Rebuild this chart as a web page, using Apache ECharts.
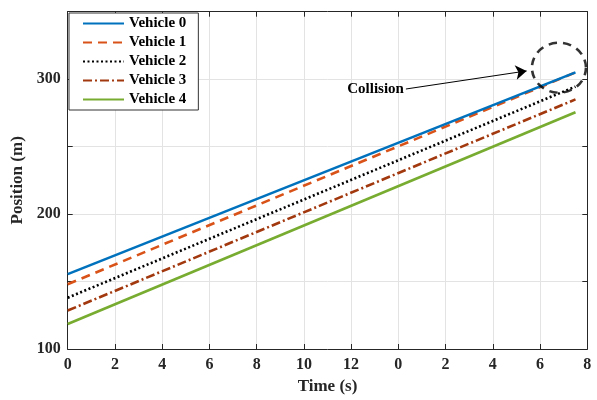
<!DOCTYPE html>
<html>
<head>
<meta charset="utf-8">
<script src="https://cdn.jsdelivr.net/npm/echarts@6/dist/echarts.min.js"></script>
<style>html,body{margin:0;padding:0;background:#fff}#c{width:597px;height:400px}</style>
</head>
<body>
<div id="c"></div>
<script>
// Data (x in axis units; tick labels wrap after 12)
var names = ['Vehicle 0', 'Vehicle 1', 'Vehicle 2', 'Vehicle 3', 'Vehicle 4'];
var times = [0, 21.5];
var v0 = [155.5, 305];
var v1 = [148, 305];
var v2 = [138, 294.5];
var v3 = [128.5, 285];
var v4 = [118.5, 275.5];
var xTicks = [0, 2, 4, 6, 8, 10, 12, 0, 2, 4, 6, 8];
var collisionCenter = [20.8, 308.5];
var arrowFrom = [14.32, 292.7];
var arrowTo = [19.43, 306.1];

var colors = ['#0072BD', '#D95319', '#000000', '#A2380E', '#77AC30'];
var dashes = ['solid', [9, 6], [2, 2.5], [9, 3, 2, 3], 'solid'];
var vals = [v0, v1, v2, v3, v4];
var FONT = '"Liberation Serif", "Times New Roman", serif';

var series = vals.map(function (v, i) {
  return {
    name: names[i], type: 'line', symbol: 'none', animation: false,
    data: times.map(function (t, k) { return [t, v[k]]; }),
    lineStyle: { color: colors[i], width: 2.6, type: dashes[i] },
    itemStyle: { color: colors[i] },
    z: 10 - i
  };
});
series.push({
  name: 'collision', type: 'scatter', animation: false, silent: true,
  data: [collisionCenter], symbol: 'circle', symbolSize: [54, 50], clip: false,
  itemStyle: { color: 'rgba(0,0,0,0)', borderColor: '#000', borderWidth: 2.5, borderType: [8, 6] },
  z: 20,
  markLine: {
    silent: true, animation: false,
    symbol: ['none', 'arrow'], symbolSize: 11,
    lineStyle: { color: '#000', width: 1, type: 'solid' },
    label: { show: true, position: 'start', formatter: 'Collision', distance: 2,
      fontFamily: FONT, fontWeight: 'bold', fontSize: 15, color: '#000' },
    data: [[{ coord: arrowFrom }, { coord: arrowTo }]]
  }
});

var axisCommon = {
  axisLine: { show: true, onZero: false, lineStyle: { color: '#262626', width: 1 } },
  axisTick: { show: true, inside: true, length: 5, lineStyle: { color: '#262626' } }
};

var chart = echarts.init(document.getElementById('c'), null, { renderer: 'canvas' });
chart.setOption({
  animation: false,
  backgroundColor: '#fff',
  grid: { left: 67.7, right: 9.7, top: 11.7, bottom: 47.3 },
  legend: {
    data: names, orient: 'vertical', left: 69, top: 13,
    itemWidth: 41, itemHeight: 14, itemGap: 4,
    padding: [3, 12, 3, 13],
    itemStyle: { color: 'rgba(0,0,0,0)', borderWidth: 0, opacity: 0 },
    backgroundColor: '#fff', borderColor: '#333', borderWidth: 1, borderRadius: 0,
    textStyle: { fontFamily: FONT, fontWeight: 'bold', fontSize: 15, color: '#000' }
  },
  xAxis: [
    Object.assign({}, axisCommon, {
      type: 'value', min: 0, max: 22, interval: 2, position: 'bottom',
      name: 'Time (s)', nameLocation: 'middle', nameGap: 29,
      nameTextStyle: { fontFamily: FONT, fontWeight: 'bold', fontSize: 17, color: '#262626' },
      axisLabel: { margin: 8, fontFamily: FONT, fontWeight: 'bold', fontSize: 16, color: '#262626',
        formatter: function (v) { return String(xTicks[Math.round(v / 2)]); } },
      splitLine: { show: true, lineStyle: { color: '#e3e3e3', width: 1 } }
    }),
    Object.assign({}, axisCommon, {
      type: 'value', min: 0, max: 22, interval: 2, position: 'top',
      axisLabel: { show: false }, splitLine: { show: false }
    })
  ],
  yAxis: [
    Object.assign({}, axisCommon, {
      type: 'value', min: 100, max: 350, interval: 50, position: 'left',
      name: 'Position (m)', nameLocation: 'middle', nameGap: 32,
      nameTextStyle: { fontFamily: FONT, fontWeight: 'bold', fontSize: 17, color: '#262626' },
      axisLabel: { margin: 7, fontFamily: FONT, fontWeight: 'bold', fontSize: 16, color: '#262626',
        formatter: function (v) { return v % 100 === 0 ? String(v) : ''; } },
      splitLine: { show: true, lineStyle: { color: '#e3e3e3', width: 1 } }
    }),
    Object.assign({}, axisCommon, {
      type: 'value', min: 100, max: 350, interval: 50, position: 'right',
      axisLabel: { show: false }, splitLine: { show: false }
    })
  ],
  series: series
});
</script>
</body>
</html>
